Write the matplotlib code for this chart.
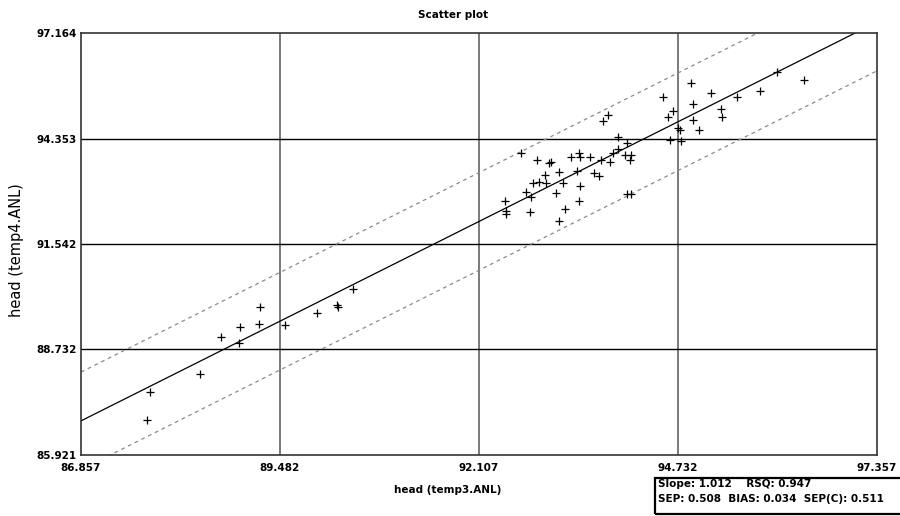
import matplotlib
matplotlib.use("Agg")
import matplotlib.pyplot as plt
from matplotlib.patches import Rectangle

# values
x_obs = [87.728, 87.767, 88.427, 88.704, 88.941, 88.954, 89.205, 89.218, 89.548,
         89.970, 90.234, 90.247, 90.445,
         92.450, 92.463, 92.463, 92.661, 92.727, 92.780, 92.793, 92.819, 92.872,
         92.898, 92.978, 92.991, 93.030, 93.057, 93.123, 93.162, 93.162, 93.215,
         93.241, 93.321, 93.400, 93.426, 93.439, 93.439, 93.426, 93.571, 93.624,
         93.690, 93.716, 93.835, 93.875, 93.941, 94.033, 94.059, 94.059, 94.112,
         94.099, 94.112, 93.743, 93.809, 93.941,
         94.534, 94.600, 94.666, 94.732, 94.758, 94.627, 94.772, 94.904, 94.930,
         94.930, 95.009, 95.167, 95.299, 95.312, 95.510, 95.814, 96.038, 96.394]
y_obs = [86.854, 87.600, 88.079, 89.065, 88.905, 89.332, 89.411, 89.864, 89.385,
         89.705, 89.918, 89.864, 90.344,
         92.689, 92.422, 92.342, 93.968, 92.929, 92.396, 92.795, 93.168, 93.781,
         93.195, 93.382, 93.168, 93.701, 93.728, 92.902, 93.462, 92.156, 93.168,
         92.476, 93.861, 93.488, 93.968, 93.861, 93.089, 92.689, 93.861, 93.435,
         93.355, 93.781, 93.728, 93.968, 94.074, 93.915, 94.234, 92.875, 93.915,
         93.781, 92.875, 94.820, 94.980, 94.394,
         95.460, 94.927, 95.087, 94.634, 94.581, 94.314, 94.288, 95.833, 95.273,
         94.847, 94.581, 95.566, 95.140, 94.927, 95.460, 95.620, 96.126, 95.913]

x_ticks = [86.857, 89.482, 92.107, 94.732, 97.357]
y_ticks = [85.921, 88.732, 91.542, 94.353, 97.164]

slope = 1.012
y_at_xmin = 86.83   # fitted value at left edge
band = 1.30         # dashed lines offset
stats_line1 = "Slope: 1.012    RSQ: 0.947"
stats_line2 = "SEP: 0.508  BIAS: 0.034  SEP(C): 0.511"

fig = plt.figure(figsize=(9, 5.16), dpi=100)
ax = fig.add_axes([81/900, 61/516, 796/900, 422/516])

xmin, xmax = x_ticks[0], x_ticks[-1]
ax.set_xlim(xmin, xmax)
ax.set_ylim(y_ticks[0], y_ticks[-1])

for xv in x_ticks[1:-1]:
    ax.axvline(xv, color="#7a7a7a", lw=1.4, zorder=1)
for yv in y_ticks[1:-1]:
    ax.axhline(yv, color="black", lw=1.0, zorder=1)

fx = [xmin, xmax]
fy = [y_at_xmin, y_at_xmin + slope * (xmax - xmin)]
ax.plot(fx, fy, color="black", lw=0.9, zorder=2)
ax.plot(fx, [v + band for v in fy], color="#8a8a8a", lw=0.9, ls=(0, (3, 3)), zorder=2)
ax.plot(fx, [v - band for v in fy], color="#8a8a8a", lw=0.9, ls=(0, (3, 3)), zorder=2)

ax.plot(x_obs, y_obs, "+", color="black", ms=5.5, mew=0.9, zorder=3)

ax.set_xticks(x_ticks)
ax.set_yticks(y_ticks)
ax.set_xticklabels(["%.3f" % v for v in x_ticks])
ax.set_yticklabels(["%.3f" % v for v in y_ticks])
ax.tick_params(length=0, labelsize=7.5)
ax.tick_params(axis="x", pad=6)
ax.tick_params(axis="y", pad=3)
for lab in ax.get_xticklabels() + ax.get_yticklabels():
    lab.set_fontweight("bold")
for sp in ax.spines.values():
    sp.set_linewidth(1.2)
    sp.set_color("#333333")

fig.text(453/900, 1 - 15/516, "Scatter plot", ha="center", va="center",
         fontsize=7.5, fontweight="bold")
fig.text(448/900, 1 - 490/516, "head (temp3.ANL)", ha="center", va="center",
         fontsize=7.5, fontweight="bold")
fig.text(17/900, 1 - 250/516, "head (temp4.ANL)", ha="center", va="center",
         rotation=90, fontsize=10.5)

# stats box at the lower right
fig.patches.append(Rectangle((655/900, 2/516), 260/900, 36/516, transform=fig.transFigure,
                             fill=False, edgecolor="black", lw=1.6))
fig.text(658/900, 1 - 484/516, stats_line1, ha="left", va="center",
         fontsize=7.5, fontweight="bold")
fig.text(658/900, 1 - 499/516, stats_line2, ha="left", va="center",
         fontsize=7.5, fontweight="bold")

fig.savefig("out.png", dpi=100)
